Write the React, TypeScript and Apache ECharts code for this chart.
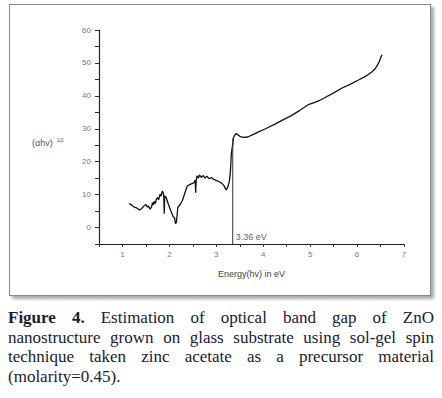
import React, { useEffect, useRef } from "react";
import * as echarts from "echarts";

const energy = [1.14,1.2,1.25,1.3,1.36,1.41,1.46,1.5,1.53,1.55,1.59,1.62,1.64,1.66,1.68,1.7,1.72,1.75,1.77,1.8,1.82,1.85,1.87,1.88,1.89,1.9,1.93,1.98,2.03,2.08,2.11,2.13,2.15,2.18,2.23,2.28,2.33,2.38,2.45,2.5,2.53,2.55,2.56,2.57,2.59,2.62,2.64,2.68,2.72,2.76,2.8,2.85,2.89,2.95,3.02,3.1,3.16,3.21,3.25,3.28,3.3,3.32,3.34,3.35,3.36,3.39,3.42,3.45,3.5,3.57,3.67,3.78,3.89,4.05,4.25,4.42,4.6,4.78,4.96,5.1,5.2,5.32,5.5,5.67,5.85,6.03,6.15,6.24,6.32,6.39,6.46,6.53];
const absorption = [7.3,6.8,6.2,6.0,5.3,5.8,6.6,7.0,6.2,6.6,5.6,6.3,7.6,6.8,8.0,7.3,8.6,9.1,8.4,10.1,9.5,11.1,10.4,9.8,4.2,9.6,9.2,7.0,5.1,3.3,3.0,1.2,1.6,6.1,7.0,8.3,10.5,12.6,13.2,13.4,13.8,14.4,10.6,14.0,15.7,15.0,16.0,15.2,15.8,15.0,15.6,14.8,15.2,14.6,14.2,13.6,12.8,11.4,12.5,14.2,17,22.3,24.5,25,27,28,28.5,28.3,27.7,27.4,27.5,28.2,29,30.0,31.4,32.7,34,35.6,37.3,38,38.6,39.5,40.9,42.3,43.5,44.8,45.7,46.5,47.3,48.3,50,52.5];
const bandGap = 3.35;
const bandGapLine = [-5, 27];
const bandGapLabel = "3.36 eV";
const xTitle = "Energy(hv) in eV";
const captionBold = "Figure 4.";
const captionLines = [
  " Estimation of optical band gap of ZnO",
  "nanostructure grown on glass substrate using sol-gel spin",
  "technique taken zinc acetate as a precursor material",
  "(molarity=0.45).",
];

export default function App() {
  const ref = useRef<HTMLDivElement>(null);
  useEffect(() => {
    if (!ref.current) return;
    const chart = echarts.init(ref.current, null, { renderer: "svg" });
    chart.setOption({
      animation: false,
      grid: { left: 99, right: 38, top: 30, bottom: 56 },
      xAxis: {
        type: "value",
        min: 0.5,
        max: 7,
        interval: 0.5,
        name: xTitle,
        nameLocation: "middle",
        nameGap: 25,
        nameTextStyle: { fontFamily: "Liberation Sans", fontSize: 9, color: "#444" },
        axisLine: { onZero: false, lineStyle: { color: "#222", width: 1.2 } },
        axisTick: { inside: false, length: 3, lineStyle: { color: "#333" } },
        axisLabel: {
          fontFamily: "Liberation Sans",
          fontSize: 8,
          color: "#777",
          margin: 6,
          formatter: (v: number) => (Number.isInteger(v) ? String(v) : ""),
        },
        splitLine: { show: false },
      },
      yAxis: {
        type: "value",
        min: -5,
        max: 60,
        interval: 5,
        axisLine: { show: true, lineStyle: { color: "#222", width: 1.2 } },
        axisTick: { show: true, length: 4, lineStyle: { color: "#333" } },
        axisLabel: {
          fontFamily: "Liberation Sans",
          fontSize: 8,
          color: "#777",
          margin: 8,
          formatter: (v: number) => (v >= 0 && v % 10 === 0 ? String(v) : ""),
        },
        splitLine: { show: false },
      },
      graphic: [
        {
          type: "text",
          left: 32,
          top: 137,
          style: {
            text: "(αhv){s|1/2}",
            fontFamily: "Liberation Sans",
            fontSize: 9,
            fill: "#555",
            rich: { s: { fontSize: 5, fill: "#555", verticalAlign: "top", padding: [0, 0, 6, 4] } },
          },
        },
      ],
      series: [
        {
          type: "line",
          data: energy.map((e, i) => [e, absorption[i]]),
          showSymbol: false,
          lineStyle: { color: "#111", width: 1.3 },
        },
        {
          type: "line",
          data: bandGapLine.map((v) => [bandGap, v]),
          showSymbol: false,
          lineStyle: { color: "#333", width: 1 },
        },
        {
          type: "scatter",
          data: [[bandGap, -3]],
          symbolSize: 0,
          label: {
            show: true,
            position: "right",
            distance: 3,
            formatter: bandGapLabel,
            fontFamily: "Liberation Sans",
            fontSize: 9,
            color: "#333",
          },
        },
      ],
    });
    return () => chart.dispose();
  }, []);
  const lineStyle = (last: boolean): React.CSSProperties => ({
    height: 19.6,
    whiteSpace: "nowrap",
    textAlign: "justify",
    textAlignLast: last ? "left" : "justify",
  });
  return (
    <div style={{ position: "fixed", left: 0, top: 0, width: 442, height: 398, background: "#fff" }}>
      <div
        style={{
          position: "absolute",
          left: 9,
          top: 4,
          width: 420,
          height: 290,
          border: "1px solid #888",
          boxShadow: "3px 3px 3px #aaa",
          background: "#fff",
        }}
      />
      <div ref={ref} style={{ position: "absolute", left: 0, top: 0, width: 442, height: 300 }} />
      <div
        style={{
          position: "absolute",
          left: 8,
          top: 308,
          width: 426,
          fontFamily: "Liberation Serif, Times New Roman, serif",
          fontSize: 17,
          lineHeight: "19.6px",
          color: "#1a1a33",
        }}
      >
        {captionLines.map((t, i) => (
          <div key={i} style={lineStyle(i === captionLines.length - 1)}>
            {i === 0 ? <b>{captionBold}</b> : null}
            {t}
          </div>
        ))}
      </div>
    </div>
  );
}
